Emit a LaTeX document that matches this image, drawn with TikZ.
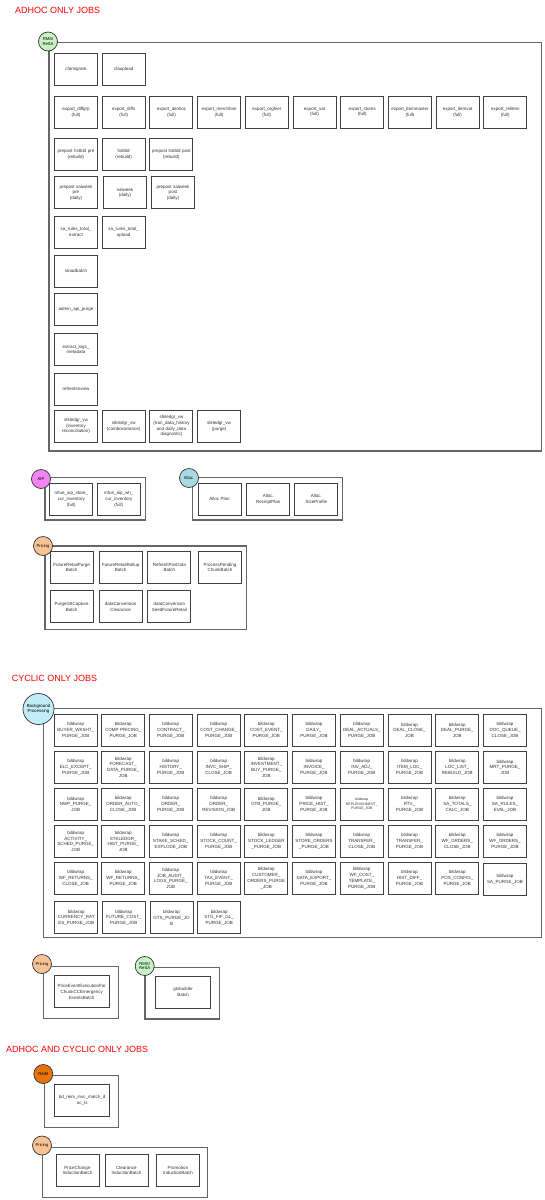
\documentclass[tikz,border=0pt]{standalone}
\usepackage{fontspec}
\setmainfont{Liberation Sans}
\definecolor{rmsgreen}{HTML}{C8F2C4}
\definecolor{aippink}{HTML}{F284F2}
\definecolor{allocblue}{HTML}{A9D9E2}
\definecolor{pricingpeach}{HTML}{F8C394}
\definecolor{bgblue}{HTML}{C2ECF8}
\definecolor{reimorange}{HTML}{E8720E}
\tikzset{
  jobbox/.style={draw=black!75, line width=0.9pt, fill=white, minimum width=43pt, minimum height=32pt,
    inner sep=0pt, text width=42pt, align=center, font=\fontsize{4.5}{5.7}\selectfont, text=black!80},
  widebox/.style={jobbox, minimum width=55pt, text width=53pt},
  groupbox/.style={draw=black!60, line width=1.3pt},
  tagcircle/.style={circle, draw=black!80, line width=0.7pt, minimum size=19pt, inner sep=0pt,
    align=center, font=\fontsize{4.2}{4.6}\selectfont},
  sectiontitle/.style={anchor=west, inner sep=0pt, text=red, font=\fontsize{9}{10}\selectfont},
}
\begin{document}
\begin{tikzpicture}[x=1pt, y=-1pt]
\useasboundingbox (0,0) rectangle (544,1200);

% Adhoc only jobs
\node[sectiontitle] (adhoctitle) at (15,10.3) {ADHOC ONLY JOBS};

% RMS/ReSA group
\draw[groupbox] (49,42.5) rectangle (541.5,451);
\node[tagcircle, fill=rmsgreen] (rmsresa) at (48,41.5) {RMS/\\ReSA};
\node[jobbox] (cfamigrate) at (76,69) {cfamigrate};
\node[jobbox] (cfaupload) at (123.7,69) {cfaupload};
\node[jobbox] (expdiffgrp) at (76,112) {export\_diffgrp\\(full)};
\node[jobbox] (expdiffs) at (123.7,112) {export\_diffs\\(full)};
\node[jobbox] (expitemloc) at (171.4,112) {export\_itemloc\\(full)};
\node[jobbox] (expmerch) at (219.1,112) {export\_merchhier\\(full)};
\node[jobbox] (exporg) at (266.8,112) {export\_orghier\\(full)};
\node[jobbox] (expvat) at (314.5,112) {export\_vat\\(full)};
\node[jobbox] (expstores) at (362.2,112) {export\_stores\\(full)};
\node[jobbox] (expitemmaster) at (409.9,112) {export\_itemmaster\\(full)};
\node[jobbox] (expitemvat) at (457.6,112) {export\_itemvat\\(full)};
\node[jobbox] (exprelitem) at (505.3,112) {export\_relitem\\(full)};
\node[jobbox] (hstpre) at (76,154) {prepost hstbld pre\\(rebuild)};
\node[jobbox] (hstbld) at (123.7,154) {hstbld\\(rebuild)};
\node[jobbox] (hstpost) at (171.4,154) {prepost hstbld post\\(rebuild)};
\node[jobbox] (salpre) at (76,192.7) {prepost salweek\\pre\\(daily)};
\node[jobbox] (salweek) at (125,192.7) {salweek\\(daily)};
\node[jobbox] (salpost) at (173,192.7) {prepost salweek\\post\\(daily)};
\node[jobbox] (saextract) at (76,232) {sa\_rules\_total\_\\extract};
\node[jobbox] (saupload) at (123.7,232) {sa\_rules\_total\_\\upload};
\node[jobbox] (stoadbatch) at (76,271) {stoadbatch};
\node[jobbox] (adminpurge) at (76,309.3) {admin\_api\_purge};
\node[jobbox] (extractlogs) at (76,349.3) {extract\_logs\_\\metadata};
\node[jobbox] (refreshmview) at (76,389) {refreshmview};
\node[jobbox] (stkinv) at (76,426) {stkledgr\_vw\\(inventory\\reconciliation)};
\node[jobbox] (stkcombo) at (123.7,426) {stkledgr\_vw\\(combovariance)};
\node[jobbox] (stktran) at (171.4,426) {stkledgr\_vw\\(tran\_data\_history\\and daily\_data\\diagnostic)};
\node[jobbox] (stkpurge) at (219.1,426) {stkledgr\_vw\\(purge)};

% AIP group
\draw[groupbox] (45,477.7) rectangle (145.7,520);
\node[tagcircle, fill=aippink] (aip) at (41,479) {AIP};
\node[jobbox] (aipstore) at (71.3,499.2) {mfue\_aip\_store\_\\cur\_inventory\\(full)};
\node[jobbox] (aipwh) at (118.8,499.2) {mfue\_aip\_wh\_\\cur\_inventory\\(full)};

% Alloc group
\draw[groupbox] (192.7,477.7) rectangle (342.3,520);
\node[tagcircle, fill=allocblue] (alloc) at (189,478) {Alloc.};
\node[jobbox] (allocplan) at (219.5,499.2) {Alloc Plan};
\node[jobbox] (allocreceipt) at (268.3,499.2) {Alloc.\\ReceiptPlan};
\node[jobbox] (allocsize) at (316.3,499.2) {Alloc.\\SizeProfile};

% Pricing group
\draw[groupbox] (45,546) rectangle (246.7,629.3);
\node[tagcircle, fill=pricingpeach] (pricinga) at (43,546) {Pricing};
\node[jobbox] (frpurge) at (71.7,567.5) {FutureRetailPurge\\Batch};
\node[jobbox] (frrollup) at (120.7,567.5) {FutureRetailRollup\\Batch};
\node[jobbox] (refreshpos) at (169.3,567.5) {RefreshPosData\\Batch};
\node[jobbox] (procpending) at (220,567.5) {ProcessPending\\ChunkBatch};
\node[jobbox] (purgegtt) at (71.7,606.8) {PurgeGttCapture\\Batch};
\node[jobbox] (dcclear) at (120.7,606.8) {dataConversion\\Clearance};
\node[jobbox] (dcseed) at (169.3,606.8) {dataConversion\\SeedFutureRetail};

% Cyclic only jobs
\node[sectiontitle] (cyclictitle) at (11.7,678) {CYCLIC ONLY JOBS};

% Background processing group
\draw[groupbox] (43.3,708.3) rectangle (541.3,937.3);
\node[tagcircle, fill=bgblue, minimum size=31pt, font=\fontsize{4.4}{4.9}\selectfont] (bgproc) at (38.5,709) {Background\\Processing};
\node[jobbox] (buyer) at (75.7,730.3) {bildwrap\\BUYER\_WKSHT\_\\PURGE\_JOB};
\node[jobbox] (comp) at (123.2,730.3) {bildwrap\\COMP PRICING\_\\PURGE\_JOB};
\node[jobbox] (contract) at (170.8,730.3) {bildwrap\\CONTRACT\_\\PURGE\_JOB};
\node[jobbox] (costchange) at (218.7,730.3) {bildwrap\\COST\_CHANGE\_\\PURGE\_JOB};
\node[jobbox] (costevent) at (266.3,730.3) {bildwrap\\COST\_EVENT\_\\PURGE\_JOB};
\node[jobbox] (daily) at (314,730.3) {bildwrap\\DAILY\_\\PURGE\_JOB};
\node[jobbox] (dealact) at (361.8,730.3) {bildwrap\\DEAL\_ACTUALS\_\\PURGE\_JOB};
\node[jobbox] (dealclose) at (409.5,730.3) {bildwrap\\DEAL\_CLOSE\_\\JOB};
\node[jobbox] (dealpurge) at (457.3,730.3) {bildwrap\\DEAL\_PURGE\_\\JOB};
\node[jobbox] (docqueue) at (505,730.3) {bildwrap\\DOC\_QUEUE\_\\CLOSE\_JOB};
\node[jobbox] (elc) at (75.7,767.2) {bildwrap\\ELC\_EXCEPT\_\\PURGE\_JOB};
\node[jobbox] (forecast) at (123.2,767.2) {bildwrap\\FORECAST\_\\DATA\_PURGE\_\\JOB};
\node[jobbox] (history) at (170.8,767.2) {bildwrap\\HISTORY\_\\PURGE\_JOB};
\node[jobbox] (invcship) at (218.7,767.2) {bildwrap\\INVC\_SHIP\_\\CLOSE\_JOB};
\node[jobbox] (investment) at (266.3,767.2) {bildwrap\\INVESTMENT\_\\BUY\_PURGE\_\\JOB};
\node[jobbox] (invoice) at (314,767.2) {bildwrap\\INVOICE\_\\PURGE\_JOB};
\node[jobbox] (invadj) at (361.8,767.2) {bildwrap\\INV\_ADJ\_\\PURGE\_JOB};
\node[jobbox] (itemloc) at (409.5,767.2) {bildwrap\\ITEM\_LOC\_\\PURGE\_JOB};
\node[jobbox] (loclist) at (457.3,767.2) {bildwrap\\LOC\_LIST\_\\REBUILD\_JOB};
\node[jobbox] (mrt) at (505,767.2) {bildwrap\\MRT\_PURGE\_\\JOB};
\node[jobbox] (nwp) at (75.7,804.2) {bildwrap\\NWP\_PURGE\_\\JOB};
\node[jobbox] (orderauto) at (123.2,804.2) {bildwrap\\ORDER\_AUTO\_\\CLOSE\_JOB};
\node[jobbox] (orderpurge) at (170.8,804.2) {bildwrap\\ORDER\_\\PURGE\_JOB};
\node[jobbox] (orderrev) at (218.7,804.2) {bildwrap\\ORDER\_\\REVISION\_JOB};
\node[jobbox] (otb) at (266.3,804.2) {bildwrap\\OTB\_PURGE\_\\JOB};
\node[jobbox] (pricehist) at (314,804.2) {bildwrap\\PRICE\_HIST\_\\PURGE\_JOB};
\node[jobbox, font=\fontsize{3.5}{4.6}\selectfont] (replen) at (361.8,804.2) {bildwrap\\REPLENISHMENT\_\\PURGE\_JOB};
\node[jobbox] (rtv) at (409.5,804.2) {bildwrap\\RTV\_\\PURGE\_JOB};
\node[jobbox] (satotals) at (457.3,804.2) {bildwrap\\SA\_TOTALS\_\\CALC\_JOB};
\node[jobbox] (sarules) at (505,804.2) {bildwrap\\SA\_RULES\_\\EVAL\_JOB};
\node[jobbox] (activity) at (75.7,841.5) {bildwrap\\ACTIVITY\_\\SCHED\_PURGE\_\\JOB};
\node[jobbox] (stkhist) at (123.2,841.5) {bildwrap\\STKLEDGR\_\\HIST\_PURGE\_\\JOB};
\node[jobbox] (stake) at (170.8,841.5) {bildwrap\\STAKE\_SCHED\_\\EXPLODE\_JOB};
\node[jobbox] (stockcount) at (218.7,841.5) {bildwrap\\STOCK\_COUNT\_\\PURGE\_JOB};
\node[jobbox] (stockledger) at (266.3,841.5) {bildwrap\\STOCK\_LEDGER\\\_PURGE\_JOB};
\node[jobbox] (storeorders) at (314,841.5) {bildwrap\\STORE\_ORDERS\\\_PURGE\_JOB};
\node[jobbox] (trclose) at (361.8,841.5) {bildwrap\\TRANSFER\_\\CLOSE\_JOB};
\node[jobbox] (trpurge) at (409.5,841.5) {bildwrap\\TRANSFER\_\\PURGE\_JOB};
\node[jobbox] (wfoclose) at (457.3,841.5) {bildwrap\\WF\_ORDERS\_\\CLOSE\_JOB};
\node[jobbox] (wfopurge) at (505,841.5) {bildwrap\\WF\_ORDERS\_\\PURGE\_JOB};
\node[jobbox] (wfrclose) at (75.7,878.3) {bildwrap\\WF\_RETURNS\_\\CLOSE\_JOB};
\node[jobbox] (wfrpurge) at (123.2,878.3) {bildwrap\\WF\_RETURNS\_\\PURGE\_JOB};
\node[jobbox] (jobaudit) at (170.8,878.3) {bildwrap\\JOB\_AUDIT\_\\LOGS\_PURGE\_\\JOB};
\node[jobbox] (taxevent) at (218.7,878.3) {bildwrap\\TAX\_EVENT\_\\PURGE\_JOB};
\node[jobbox] (custorders) at (266.3,878.3) {bildwrap\\CUSTOMER\_\\ORDERS\_PURGE\\\_JOB};
\node[jobbox] (dataexport) at (314,878.3) {bildwrap\\DATA\_EXPORT\_\\PURGE\_JOB};
\node[jobbox] (wfcost) at (361.8,878.3) {Bildwrap\\WF\_COST\_\\TEMPLATE\_\\PURGE\_JOB};
\node[jobbox] (histdiff) at (409.5,878.3) {bildwrap\\HIST\_DIFF\_\\PURGE\_JOB};
\node[jobbox] (posconfig) at (457.3,878.3) {bildwrap\\POS\_CONFIG\_\\PURGE\_JOB};
\node[jobbox] (sapurge) at (505,879.5) {bildwrap\\SA\_PURGE\_JOB};
\node[jobbox] (currency) at (76.2,917.8) {bildwrap\\CURRENCY\_RAT\\ES\_PURGE\_JOB};
\node[jobbox] (futurecost) at (123.7,917.8) {bildwrap\\FUTURE\_COST\_\\PURGE\_JOB};
\node[jobbox] (gts) at (171.5,917.8) {bildwrap\\GTS\_PURGE\_JO\\B};
\node[jobbox] (stgfif) at (219.2,917.8) {bildwrap\\STG\_FIF\_GL\_\\PURGE\_JOB};

% Pricing emergency group
\draw[groupbox] (43.3,966.7) rectangle (118.3,1018.3);
\node[tagcircle, fill=pricingpeach] (pricingb) at (42,964) {Pricing};
\node[widebox] (priceevent) at (81.7,991.7) {PriceEventExecutionFor\\ChunkCCEmergency\\EventsBatch};

% RMS/ReSA gts group
\draw[groupbox] (145,967.3) rectangle (219.3,1019);
\node[tagcircle, fill=rmsgreen] (rmsresab) at (144.7,966) {RMS/\\ReSA};
\node[widebox] (gtsbuilder) at (183.2,992.2) {gtsbuilder\\Batch};

% Adhoc and cyclic only jobs
\node[sectiontitle] (bothtitle) at (6,1049) {ADHOC AND CYCLIC ONLY JOBS};

% ReIM group
\draw[groupbox] (44.3,1075.7) rectangle (118.7,1127.3);
\node[tagcircle, fill=reimorange] (reim) at (43.3,1074) {ReIM};
\node[widebox] (reimmatch) at (82.2,1100.5) {bd\_reim\_invc\_match\_d\\oc\_tx};

% Pricing induction group
\draw[groupbox] (42.7,1147.3) rectangle (207.7,1197.7);
\node[tagcircle, fill=pricingpeach] (pricingc) at (42,1145.5) {Pricing};
\node[jobbox] (pcinduction) at (77.5,1170.5) {PriceChange\\InductionBatch};
\node[jobbox] (clinduction) at (126.5,1170.5) {Clearance\\InductionBatch};
\node[jobbox] (prinduction) at (178,1170.5) {Promotion\\InductionBatch};
\end{tikzpicture}
\end{document}
